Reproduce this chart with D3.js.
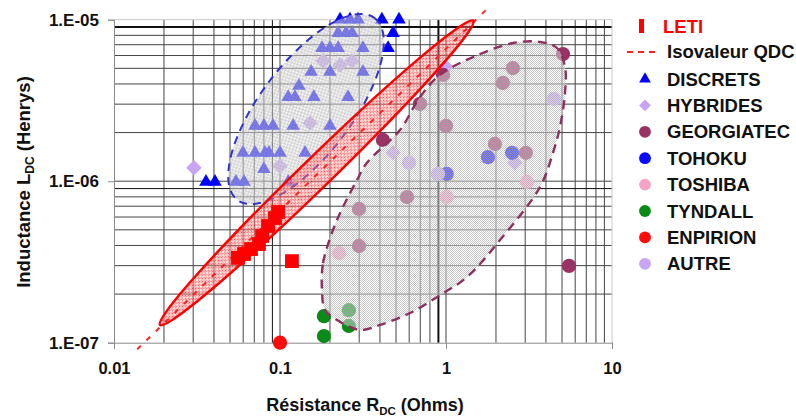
<!DOCTYPE html>
<html>
<head>
<meta charset="utf-8">
<script src="https://cdn.jsdelivr.net/npm/d3@7"></script>
<style>
  body { margin: 0; background: #fff; }
  svg { display: block; font-family: "Liberation Sans", Arial, sans-serif; font-weight: bold; }
</style>
</head>
<body>
<svg id="chart" width="796" height="416"></svg>
<script>
// ---- Axis ticks ----
const xTickValues = [0.01, 0.1, 1, 10];
const xTickLabels = ["0.01", "0.1", "1", "10"];
const yTickValues = [1e-7, 1e-6, 1e-5];
const yTickLabels = ["1.E-07", "1.E-06", "1.E-05"];

// ---- Series: [R_DC (Ohms), L_DC (H)] ----
const leti = [
  [0.0558, 3.35e-7], [0.0607, 3.54e-7], [0.0669, 3.80e-7], [0.0747, 4.08e-7],
  [0.0780, 4.58e-7], [0.0847, 5.28e-7], [0.0933, 5.92e-7], [0.0973, 6.45e-7],
  [0.118, 3.2e-7]
];
const discrets = [
  [0.23, 1.0e-5], [0.264, 1.0e-5], [0.295, 1.0e-5], [0.411, 1.0e-5], [0.521, 1.0e-5],
  [0.224, 8.27e-6], [0.25, 8.27e-6], [0.272, 8.27e-6], [0.48, 8.27e-6],
  [0.179, 6.68e-6], [0.2, 6.68e-6], [0.224, 6.68e-6], [0.316, 6.68e-6], [0.448, 6.68e-6],
  [0.154, 4.75e-6], [0.2, 4.75e-6], [0.316, 4.75e-6],
  [0.13, 3.89e-6],
  [0.112, 3.32e-6], [0.123, 3.32e-6], [0.16, 3.32e-6], [0.257, 3.32e-6],
  [0.0707, 2.2e-6], [0.08, 2.2e-6], [0.0907, 2.2e-6], [0.12, 2.2e-6], [0.2, 2.2e-6],
  [0.0598, 1.5e-6], [0.0707, 1.5e-6], [0.0812, 1.5e-6], [0.0859, 1.5e-6], [0.1, 1.5e-6], [0.1415, 1.5e-6],
  [0.08, 1.19e-6],
  [0.0358, 9.9e-7], [0.0406, 9.9e-7], [0.0543, 9.9e-7], [0.0607, 9.9e-7], [0.112, 9.9e-7]
];
const hybrides = [
  [0.0303, 1.21e-6], [0.1, 1.24e-6], [0.1517, 2.29e-6], [0.1816, 5.55e-6],
  [0.23, 5.24e-6], [0.2716, 5.55e-6], [0.48, 1.5e-6], [1.0, 5.1e-6], [2.6, 1.3e-6]
];
const georgiatec = [
  [5.07, 6.13e-6], [2.53, 5.02e-6], [2.2, 4.06e-6], [0.96, 4.55e-6], [0.697, 3.01e-6],
  [1.0, 2.2e-6], [1.97, 1.7e-6], [3.03, 1.5e-6], [0.417, 1.8e-6], [0.582, 7.98e-7],
  [0.299, 6.73e-7], [0.299, 3.97e-7], [5.51, 2.99e-7]
];
const tohoku = [[1.79, 1.41e-6], [2.5, 1.5e-6], [1.01, 1.11e-6]];
const toshiba = [[1.01, 7.98e-7], [3.08, 9.89e-7], [0.227, 3.59e-7]];
const tyndall = [[0.184, 1.46e-7], [0.184, 1.10e-7], [0.26, 1.59e-7], [0.26, 1.27e-7]];
const enpirion = [[0.1, 1.0e-7]];
const autre = [[4.47, 3.23e-6], [0.599, 1.3e-6], [0.895, 1.11e-6]];

// Constant L/R line (end points)
const isoR = [0.0138, 1.75];
const isoL = [9.1e-8, 1.155e-5];

// Elliptic regions: ends of the major axis [R, L]
const regionDiscrets = [[0.0554, 7.65e-7], [0.3715, 1.024e-5]];
const regionLeti = [[0.01893, 1.288e-7], [1.461, 9.86e-6]];
// Outline of the GEORGIATEC region [R, L]
const regionGeorgia = [
  [0.179, 2.12e-7], [0.1816, 3.11e-7], [0.2086, 4.99e-7], [0.2396, 6.92e-7],
  [0.291, 1.017e-6], [0.334, 1.30e-6], [0.528, 2.075e-6], [0.697, 3.32e-6],
  [0.920, 4.55e-6], [1.454, 5.87e-6], [2.533, 7.17e-6], [3.685, 7.28e-6],
  [4.66, 6.68e-6], [5.21, 5.09e-6], [5.21, 3.52e-6], [4.86, 2.17e-6],
  [4.41, 1.50e-6], [3.685, 9.21e-7], [2.115, 4.32e-7], [1.338, 2.55e-7],
  [0.920, 1.97e-7], [0.607, 1.527e-7], [0.4004, 1.288e-7], [0.3033, 1.199e-7],
  [0.2205, 1.382e-7], [0.1867, 1.594e-7]
];

// ---- Layout ----
const svg = d3.select("#chart");
const plot = { left: 114, right: 612, top: 19.7, bottom: 342.7 };

const x = d3.scaleLog().domain([0.01, 10]).range([plot.left, plot.right]);
const y = d3.scaleLog().domain([1e-7, 1e-5]).range([plot.bottom, plot.top]);

// fill patterns
const defs = svg.append("defs");
const grayPat = defs.append("pattern").attr("id", "grayHatch")
  .attr("width", 2).attr("height", 2).attr("patternUnits", "userSpaceOnUse");
grayPat.append("rect").attr("width", 2).attr("height", 2).attr("fill", "#fff").attr("fill-opacity", 0.4);
grayPat.append("rect").attr("x", 0).attr("y", 0).attr("width", 1).attr("height", 1).attr("fill", "#a0a0a0").attr("fill-opacity", 0.6);
grayPat.append("rect").attr("x", 1).attr("y", 1).attr("width", 1).attr("height", 1).attr("fill", "#a0a0a0").attr("fill-opacity", 0.6);

const redPat = defs.append("pattern").attr("id", "redHatch")
  .attr("width", 2).attr("height", 2).attr("patternUnits", "userSpaceOnUse");
redPat.append("rect").attr("width", 2).attr("height", 2).attr("fill", "#fff").attr("fill-opacity", 0.3);
redPat.append("rect").attr("x", 0).attr("y", 0).attr("width", 1).attr("height", 1).attr("fill", "#ff0000").attr("fill-opacity", 0.75);
redPat.append("rect").attr("x", 1).attr("y", 1).attr("width", 1).attr("height", 1).attr("fill", "#ff0000").attr("fill-opacity", 0.4);

// ---- Grid (every 1..9 step of each decade) ----
const gridX = x.ticks().filter(v => v > 0.01 * 1.001 && v < 10 * 0.999);
const gridY = y.ticks().filter(v => v > 1e-7 * 1.001 && v < 1e-5 * 0.999);
const leading = v => Math.round(v / Math.pow(10, Math.floor(Math.log10(v) + 1e-9)));
const grid = svg.append("g");
grid.selectAll("line.gx").data(gridX).join("line")
  .attr("x1", d => x(d)).attr("x2", d => x(d))
  .attr("y1", plot.top).attr("y2", plot.bottom)
  .attr("stroke", d => (leading(d) === 9 && d < 1) ? "#111" : "#444")
  .attr("stroke-width", d => (leading(d) === 9 && d < 1 && d > 0.1) ? 2 : 1);
grid.selectAll("line.gy").data(gridY).join("line")
  .attr("x1", plot.left).attr("x2", plot.right)
  .attr("y1", d => y(d)).attr("y2", d => y(d))
  .attr("stroke", d => leading(d) === 9 ? "#111" : "#444")
  .attr("stroke-width", d => (leading(d) === 9 && d > 1e-6) ? 2 : 1);
grid.append("line").attr("x1", plot.left).attr("x2", plot.right).attr("y1", plot.top).attr("y2", plot.top).attr("stroke", "#c8c8c8");
grid.append("line").attr("x1", plot.right).attr("x2", plot.right).attr("y1", plot.top).attr("y2", plot.bottom).attr("stroke", "#c8c8c8");

// ---- Axes ----
const xAxis = svg.append("g").attr("transform", `translate(0,${plot.bottom})`)
  .call(d3.axisBottom(x).tickValues(xTickValues).tickFormat((d, i) => xTickLabels[i]).tickSize(6).tickPadding(14));
const yAxis = svg.append("g").attr("transform", `translate(${plot.left},0)`)
  .call(d3.axisLeft(y).tickValues(yTickValues).tickFormat((d, i) => yTickLabels[i]).tickSize(6).tickPadding(9));
[xAxis, yAxis].forEach(g => {
  g.select(".domain").attr("stroke", "#8a8a8a");
  g.selectAll(".tick line").attr("stroke", "#8a8a8a");
  g.selectAll("text").attr("font-size", 16.5).attr("font-weight", "bold").attr("fill", "#111")
    .attr("font-family", "'Liberation Sans', Arial, sans-serif");
});
yAxis.selectAll("text").attr("font-size", 17);

// ---- Symbols ----
const sym = {
  tri: d3.symbol(d3.symbolTriangle, 80),
  circ: d3.symbol(d3.symbolCircle, 160),
  sq: d3.symbol(d3.symbolSquare, 190),
  dia: d3.symbol(d3.symbolSquare, 120)
};
function drawPoints(data, path, color, rot) {
  svg.append("g").selectAll("path").data(data).join("path")
    .attr("d", path)
    .attr("transform", d => `translate(${x(d[0])},${y(d[1])})${rot ? " rotate(45)" : ""}`)
    .attr("fill", color);
}

function ellipseRegion(ends, halfWidth, fill, stroke, dash, sw) {
  const p0 = [x(ends[0][0]), y(ends[0][1])];
  const p1 = [x(ends[1][0]), y(ends[1][1])];
  const cx = (p0[0] + p1[0]) / 2, cy = (p0[1] + p1[1]) / 2;
  const a = Math.hypot(p1[0] - p0[0], p1[1] - p0[1]) / 2;
  const ang = Math.atan2(p1[1] - p0[1], p1[0] - p0[0]) * 180 / Math.PI;
  return svg.append("ellipse")
    .attr("cx", 0).attr("cy", 0).attr("rx", a).attr("ry", halfWidth)
    .attr("transform", `translate(${cx},${cy}) rotate(${ang})`)
    .attr("fill", fill).attr("stroke", stroke).attr("stroke-width", sw)
    .attr("stroke-dasharray", dash);
}

// points beneath the shaded regions
drawPoints(discrets, sym.tri, "#0000ff");
drawPoints(hybrides, sym.dia, "#c9a3f5", true);
drawPoints(georgiatec, sym.circ, "#993366");
drawPoints(tohoku, sym.circ, "#0a0aff");
drawPoints(toshiba, sym.circ, "#f6a3c8");
drawPoints(tyndall, sym.circ, "#0b8a1a");
drawPoints(enpirion, sym.circ, "#ff0a0a");
drawPoints(autre, sym.circ, "#c8a6f4");

// shaded regions
ellipseRegion(regionDiscrets, 46, "url(#grayHatch)", "#3333cc", "8,6", 2);
svg.append("path")
  .datum(regionGeorgia)
  .attr("d", d3.line().x(d => x(d[0])).y(d => y(d[1])).curve(d3.curveCatmullRomClosed.alpha(0.5)))
  .attr("fill", "url(#grayHatch)").attr("stroke", "#8e2f5e").attr("stroke-width", 2.4)
  .attr("stroke-dasharray", "9,6");
ellipseRegion(regionLeti, 15, "url(#redHatch)", "none", null, 0);

// constant L/R line
svg.append("line")
  .attr("x1", x(isoR[0])).attr("y1", y(isoL[0]))
  .attr("x2", x(isoR[1])).attr("y2", y(isoL[1]))
  .attr("stroke", "#ff2020").attr("stroke-width", 2).attr("stroke-dasharray", "5,8");

ellipseRegion(regionLeti, 15, "none", "#ff0000", null, 2.5);
drawPoints(leti, sym.sq, "#ff0000");

// ---- Axis titles ----
const xt = svg.append("text").attr("x", 365).attr("y", 411).attr("text-anchor", "middle")
  .attr("font-size", 18).attr("fill", "#111");
xt.append("tspan").text("Résistance R");
xt.append("tspan").attr("font-size", 11.5).attr("dy", 4).text("DC");
xt.append("tspan").attr("dy", -4).text(" (Ohms)");

const yt = svg.append("text").attr("transform", "translate(30,182) rotate(-90)").attr("text-anchor", "middle")
  .attr("font-size", 18.5).attr("fill", "#111");
yt.append("tspan").text("Inductance L");
yt.append("tspan").attr("font-size", 12).attr("dy", 4).text("DC");
yt.append("tspan").attr("dy", -4).text(" (Henrys)");

// ---- Legend ----
const legendItems = [
  { label: "DISCRETS", shape: "tri", color: "#0000ff" },
  { label: "HYBRIDES", shape: "dia", color: "#c9a3f5" },
  { label: "GEORGIATEC", shape: "circ", color: "#993366" },
  { label: "TOHOKU", shape: "circ", color: "#0a0aff" },
  { label: "TOSHIBA", shape: "circ", color: "#f6a3c8" },
  { label: "TYNDALL", shape: "circ", color: "#0b8a1a" },
  { label: "ENPIRION", shape: "circ", color: "#ff0a0a" },
  { label: "AUTRE", shape: "circ", color: "#c8a6f4" }
];
const lg = svg.append("g").attr("font-size", 18.5);
lg.append("rect").attr("x", 639).attr("y", 19).attr("width", 5).attr("height", 14).attr("fill", "#ff0000");
lg.append("text").attr("x", 663).attr("y", 33).attr("fill", "#ff0000").text("LETI");
lg.append("line").attr("x1", 627).attr("x2", 660).attr("y1", 52).attr("y2", 52)
  .attr("stroke", "#ff2020").attr("stroke-width", 2).attr("stroke-dasharray", "6,5");
lg.append("text").attr("x", 667).attr("y", 58).attr("fill", "#111").text("Isovaleur QDC");
const legSym = {
  tri: d3.symbol(d3.symbolTriangle, 60),
  dia: d3.symbol(d3.symbolSquare, 70),
  circ: d3.symbol(d3.symbolCircle, 110)
};
legendItems.forEach((it, i) => {
  const cy = 79 + i * 26.4;
  lg.append("path").attr("d", legSym[it.shape])
    .attr("transform", `translate(645,${cy})${it.shape === "dia" ? " rotate(45)" : ""}`)
    .attr("fill", it.color);
  lg.append("text").attr("x", 667).attr("y", cy + 6.5).attr("fill", "#111").text(it.label);
});
</script>
</body>
</html>
